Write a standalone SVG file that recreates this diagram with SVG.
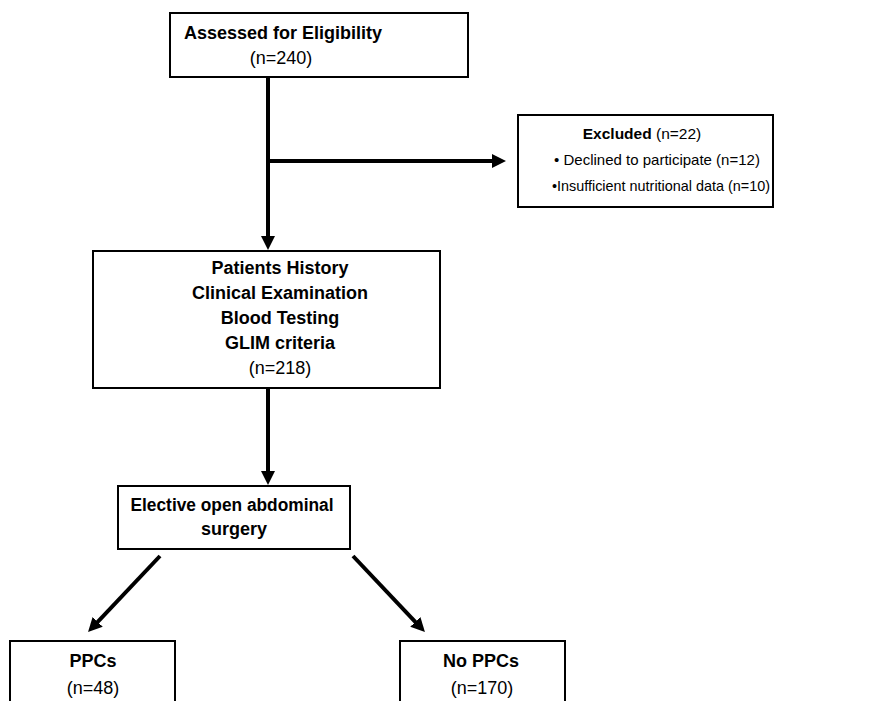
<svg xmlns="http://www.w3.org/2000/svg" width="880" height="701" viewBox="0 0 880 701">
<defs>
<style>
.box{fill:#fff;stroke:#000;stroke-width:2}
.t{font-family:"Liberation Sans",Arial,sans-serif;font-size:18px;fill:#000;text-anchor:middle}
.s{font-size:15px}
.b{font-weight:bold}
.c{stroke:#000;stroke-width:4;fill:none}
</style>
<marker id="ah" markerUnits="userSpaceOnUse" markerWidth="14" markerHeight="14" refX="2" refY="7" orient="auto">
<path d="M0,0 L14,7 L0,14 z" fill="#000"/>
</marker>
</defs>
<rect width="880" height="701" fill="#fff"/>
<g id="connectors">
<line class="c" x1="268" y1="77" x2="268" y2="238" marker-end="url(#ah)"/>
<line class="c" x1="268" y1="161" x2="494" y2="161" marker-end="url(#ah)"/>
<line class="c" x1="268" y1="388" x2="268" y2="473" marker-end="url(#ah)"/>
<line class="c" x1="160" y1="556" x2="96.3" y2="623.3" marker-end="url(#ah)"/>
<line class="c" x1="353" y1="556" x2="416.7" y2="623.3" marker-end="url(#ah)"/>
</g>
<g id="assessed">
<rect class="box" x="170" y="13" width="298" height="64"/>
<text class="t b" x="283" y="39">Assessed for Eligibility</text>
<text class="t" x="281" y="64">(n=240)</text>
</g>
<g id="excluded">
<rect class="box" x="518" y="115" width="255" height="92"/>
<text class="t s" x="642" y="139" style="font-size:15.5px"><tspan class="b">Excluded</tspan> (n=22)</text>
<text class="t s" x="657" y="165">•  Declined to participate (n=12)</text>
<text class="t s" x="661" y="191" textLength="218" lengthAdjust="spacingAndGlyphs">•Insufficient nutritional data (n=10)</text>
</g>
<g id="history">
<rect class="box" x="93" y="251" width="347" height="137"/>
<text class="t b" x="280" y="274">Patients History</text>
<text class="t b" x="280" y="299">Clinical Examination</text>
<text class="t b" x="280" y="324">Blood Testing</text>
<text class="t b" x="280" y="349">GLIM criteria</text>
<text class="t" x="280" y="374">(n=218)</text>
</g>
<g id="surgery">
<rect class="box" x="118" y="486" width="232" height="63"/>
<text class="t b" x="232" y="511" textLength="203" lengthAdjust="spacingAndGlyphs">Elective open abdominal</text>
<text class="t b" x="234" y="535">surgery</text>
</g>
<g id="ppcs">
<rect class="box" x="10" y="641" width="165" height="70"/>
<text class="t b" x="93" y="667">PPCs</text>
<text class="t" x="93" y="694">(n=48)</text>
</g>
<g id="noppcs">
<rect class="box" x="400" y="641" width="165" height="70"/>
<text class="t b" x="481" y="667">No PPCs</text>
<text class="t" x="482" y="694">(n=170)</text>
</g>
</svg>
